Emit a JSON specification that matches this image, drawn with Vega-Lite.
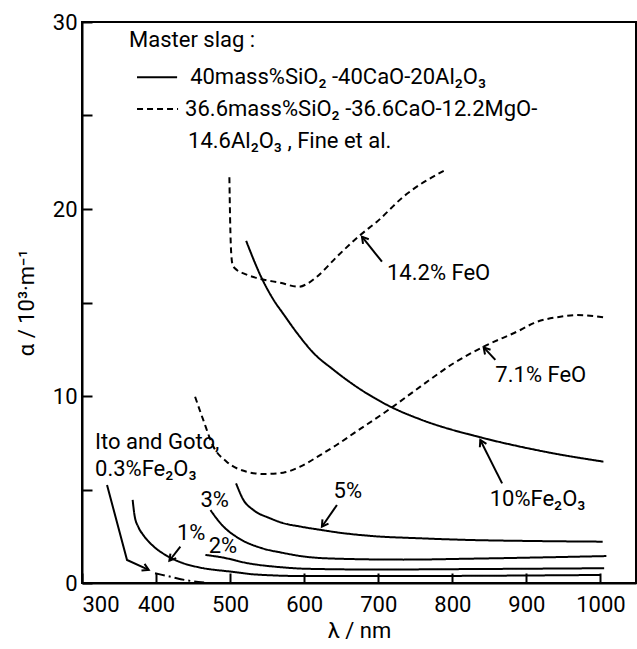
{
  "$schema": "https://vega.github.io/schema/vega-lite/v6.json",
  "width": 554,
  "height": 561,
  "autosize": {"type": "none"},
  "padding": {"left": 82, "top": 22, "right": 1, "bottom": 66},
  "background": "white",
  "config": {
    "view": {"stroke": "black", "strokeWidth": 2},
    "font": "Roboto",
    "axis": {
      "labelFont": "Roboto",
      "titleFont": "Roboto",
      "labelFontSize": 22,
      "titleFontSize": 22,
      "titleFontWeight": "normal",
      "labelColor": "black",
      "titleColor": "black",
      "domainColor": "black",
      "domainWidth": 2,
      "tickColor": "black",
      "tickWidth": 2,
      "grid": false
    }
  },
  "datasets": {
    "curves": [
      {"series": "10% Fe2O3", "style": "solid", "x": 521.6, "y": 18.3},
      {"series": "10% Fe2O3", "style": "solid", "x": 542.8, "y": 16.29},
      {"series": "10% Fe2O3", "style": "solid", "x": 558.5, "y": 15.15},
      {"series": "10% Fe2O3", "style": "solid", "x": 572, "y": 14.38},
      {"series": "10% Fe2O3", "style": "solid", "x": 590.1, "y": 13.38},
      {"series": "10% Fe2O3", "style": "solid", "x": 612.6, "y": 12.3},
      {"series": "10% Fe2O3", "style": "solid", "x": 639.6, "y": 11.4},
      {"series": "10% Fe2O3", "style": "solid", "x": 666.7, "y": 10.6},
      {"series": "10% Fe2O3", "style": "solid", "x": 718.5, "y": 9.39},
      {"series": "10% Fe2O3", "style": "solid", "x": 756.8, "y": 8.75},
      {"series": "10% Fe2O3", "style": "solid", "x": 837.8, "y": 7.79},
      {"series": "10% Fe2O3", "style": "solid", "x": 891.9, "y": 7.29},
      {"series": "10% Fe2O3", "style": "solid", "x": 936.9, "y": 6.93},
      {"series": "10% Fe2O3", "style": "solid", "x": 1004, "y": 6.49},

      {"series": "14.2% FeO", "style": "dashed", "x": 499, "y": 21.7},
      {"series": "14.2% FeO", "style": "dashed", "x": 500, "y": 19.4},
      {"series": "14.2% FeO", "style": "dashed", "x": 501.5, "y": 17.6},
      {"series": "14.2% FeO", "style": "dashed", "x": 503.5, "y": 17.0},
      {"series": "14.2% FeO", "style": "dashed", "x": 509, "y": 16.74},
      {"series": "14.2% FeO", "style": "dashed", "x": 518, "y": 16.56},
      {"series": "14.2% FeO", "style": "dashed", "x": 542.8, "y": 16.24},
      {"series": "14.2% FeO", "style": "dashed", "x": 567.6, "y": 16.06},
      {"series": "14.2% FeO", "style": "dashed", "x": 592.3, "y": 15.84},
      {"series": "14.2% FeO", "style": "dashed", "x": 603.6, "y": 15.99},
      {"series": "14.2% FeO", "style": "dashed", "x": 617.2, "y": 16.38},
      {"series": "14.2% FeO", "style": "dashed", "x": 644.2, "y": 17.45},
      {"series": "14.2% FeO", "style": "dashed", "x": 675.7, "y": 18.61},
      {"series": "14.2% FeO", "style": "dashed", "x": 698.2, "y": 19.32},
      {"series": "14.2% FeO", "style": "dashed", "x": 734, "y": 20.66},
      {"series": "14.2% FeO", "style": "dashed", "x": 790.5, "y": 22.09},

      {"series": "7.1% FeO", "style": "dashed", "x": 452.7, "y": 9.96},
      {"series": "7.1% FeO", "style": "dashed", "x": 463.7, "y": 8.72},
      {"series": "7.1% FeO", "style": "dashed", "x": 477.5, "y": 7.29},
      {"series": "7.1% FeO", "style": "dashed", "x": 495.3, "y": 6.49},
      {"series": "7.1% FeO", "style": "dashed", "x": 522.3, "y": 5.95},
      {"series": "7.1% FeO", "style": "dashed", "x": 545, "y": 5.83},
      {"series": "7.1% FeO", "style": "dashed", "x": 571.7, "y": 5.9},
      {"series": "7.1% FeO", "style": "dashed", "x": 594.6, "y": 6.22},
      {"series": "7.1% FeO", "style": "dashed", "x": 621.6, "y": 6.84},
      {"series": "7.1% FeO", "style": "dashed", "x": 643.7, "y": 7.38},
      {"series": "7.1% FeO", "style": "dashed", "x": 666.7, "y": 8.0},
      {"series": "7.1% FeO", "style": "dashed", "x": 718.5, "y": 9.39},
      {"series": "7.1% FeO", "style": "dashed", "x": 756.8, "y": 10.5},
      {"series": "7.1% FeO", "style": "dashed", "x": 801.8, "y": 11.75},
      {"series": "7.1% FeO", "style": "dashed", "x": 842.3, "y": 12.64},
      {"series": "7.1% FeO", "style": "dashed", "x": 891.9, "y": 13.53},
      {"series": "7.1% FeO", "style": "dashed", "x": 909.9, "y": 13.9},
      {"series": "7.1% FeO", "style": "dashed", "x": 945.9, "y": 14.24},
      {"series": "7.1% FeO", "style": "dashed", "x": 968.5, "y": 14.33},
      {"series": "7.1% FeO", "style": "dashed", "x": 1004.5, "y": 14.21},

      {"series": "5%", "style": "solid", "x": 508, "y": 5.33},
      {"series": "5%", "style": "solid", "x": 518, "y": 4.44},
      {"series": "5%", "style": "solid", "x": 531.5, "y": 3.9},
      {"series": "5%", "style": "solid", "x": 554, "y": 3.46},
      {"series": "5%", "style": "solid", "x": 570, "y": 3.22},
      {"series": "5%", "style": "solid", "x": 594.6, "y": 3.02},
      {"series": "5%", "style": "solid", "x": 623.9, "y": 2.83},
      {"series": "5%", "style": "solid", "x": 644, "y": 2.71},
      {"series": "5%", "style": "solid", "x": 689, "y": 2.52},
      {"series": "5%", "style": "solid", "x": 756.8, "y": 2.39},
      {"series": "5%", "style": "solid", "x": 824, "y": 2.3},
      {"series": "5%", "style": "solid", "x": 900, "y": 2.25},
      {"series": "5%", "style": "solid", "x": 1003, "y": 2.21},

      {"series": "3%", "style": "solid", "x": 473.4, "y": 3.9},
      {"series": "3%", "style": "solid", "x": 489, "y": 3.1},
      {"series": "3%", "style": "solid", "x": 511.7, "y": 2.39},
      {"series": "3%", "style": "solid", "x": 543, "y": 1.86},
      {"series": "3%", "style": "solid", "x": 570, "y": 1.62},
      {"series": "3%", "style": "solid", "x": 599, "y": 1.42},
      {"series": "3%", "style": "solid", "x": 644, "y": 1.3},
      {"series": "3%", "style": "solid", "x": 734, "y": 1.25},
      {"series": "3%", "style": "solid", "x": 824, "y": 1.3},
      {"series": "3%", "style": "solid", "x": 1008, "y": 1.44},

      {"series": "2%", "style": "solid", "x": 466.6, "y": 1.5},
      {"series": "2%", "style": "solid", "x": 489, "y": 1.37},
      {"series": "2%", "style": "solid", "x": 525, "y": 1.05},
      {"series": "2%", "style": "solid", "x": 570, "y": 0.84},
      {"series": "2%", "style": "solid", "x": 603, "y": 0.76},
      {"series": "2%", "style": "solid", "x": 700, "y": 0.72},
      {"series": "2%", "style": "solid", "x": 800, "y": 0.74},
      {"series": "2%", "style": "solid", "x": 1005, "y": 0.79},

      {"series": "1%", "style": "solid", "x": 368.4, "y": 4.44},
      {"series": "1%", "style": "solid", "x": 371, "y": 3.6},
      {"series": "1%", "style": "solid", "x": 376, "y": 3.0},
      {"series": "1%", "style": "solid", "x": 383, "y": 2.55},
      {"series": "1%", "style": "solid", "x": 394.6, "y": 2.03},
      {"series": "1%", "style": "solid", "x": 412.6, "y": 1.5},
      {"series": "1%", "style": "solid", "x": 435, "y": 1.08},
      {"series": "1%", "style": "solid", "x": 457.6, "y": 0.84},
      {"series": "1%", "style": "solid", "x": 502.7, "y": 0.6},
      {"series": "1%", "style": "solid", "x": 536, "y": 0.45},
      {"series": "1%", "style": "solid", "x": 603, "y": 0.37},
      {"series": "1%", "style": "solid", "x": 700, "y": 0.37},
      {"series": "1%", "style": "solid", "x": 1000, "y": 0.43},

      {"series": "0.3% Fe2O3", "style": "dashdot", "x": 398.6, "y": 0.52},
      {"series": "0.3% Fe2O3", "style": "dashdot", "x": 420, "y": 0.33},
      {"series": "0.3% Fe2O3", "style": "dashdot", "x": 439, "y": 0.16},
      {"series": "0.3% Fe2O3", "style": "dashdot", "x": 465, "y": 0.03},

      {"series": "legend solid", "style": "solid", "x": 374.3, "y": 27.05},
      {"series": "legend solid", "style": "solid", "x": 428.4, "y": 27.05},
      {"series": "legend dashed", "style": "dashed", "x": 374.3, "y": 25.35},
      {"series": "legend dashed", "style": "dashed", "x": 429.7, "y": 25.35}
    ],
    "shafts": [
      {"id": "a14", "x": 705, "y": 17.18},
      {"id": "a14", "x": 678, "y": 18.52},
      {"id": "a71", "x": 858.1, "y": 11.93},
      {"id": "a71", "x": 842.3, "y": 12.6},
      {"id": "a10", "x": 867.2, "y": 5.33},
      {"id": "a10", "x": 837.8, "y": 7.65},
      {"id": "a5", "x": 644.2, "y": 4.17},
      {"id": "a5", "x": 623.9, "y": 3.01},
      {"id": "a1", "x": 432.8, "y": 1.94},
      {"id": "a1", "x": 418, "y": 1.19},
      {"id": "ito", "x": 333.8, "y": 5.24},
      {"id": "ito", "x": 360.8, "y": 1.23},
      {"id": "ito", "x": 390.1, "y": 0.7}
    ],
    "heads": [
      {"id": "a14", "x": 678, "y": 18.52, "angle": -38.7},
      {"id": "a71", "x": 842.3, "y": 12.6, "angle": -41.1},
      {"id": "a10", "x": 837.8, "y": 7.65, "angle": -26.6},
      {"id": "a5", "x": 623.9, "y": 3.01, "angle": -145.3},
      {"id": "a1", "x": 418, "y": 1.19, "angle": -141.8},
      {"id": "ito", "x": 390.1, "y": 0.7, "angle": 114.7}
    ],
    "labels": [
      {"text": "Master slag :", "x": 363.5, "y": 29.04},
      {"text": "40mass%SiO₂ -40CaO-20Al₂O₃", "x": 446, "y": 27.05},
      {"text": "36.6mass%SiO₂ -36.6CaO-12.2MgO-", "x": 439.2, "y": 25.35},
      {"text": "14.6Al₂O₃ , Fine et al.", "x": 443.2, "y": 23.64},
      {"text": "14.2% FeO", "x": 711.8, "y": 16.58},
      {"text": "7.1% FeO", "x": 858.1, "y": 11.12},
      {"text": "10%Fe₂O₃", "x": 850.4, "y": 4.49},
      {"text": "5%", "x": 639.6, "y": 4.93},
      {"text": "3%", "x": 459.9, "y": 4.44},
      {"text": "1%", "x": 428.2, "y": 2.7},
      {"text": "2%", "x": 471, "y": 1.98},
      {"text": "Ito and Goto,", "x": 317.6, "y": 7.56},
      {"text": "0.3%Fe₂O₃", "x": 317.6, "y": 6.1}
    ]
  },
  "encoding": {
    "x": {
      "field": "x",
      "type": "quantitative",
      "scale": {"domain": [300, 1048], "nice": false, "zero": false},
      "axis": {
        "title": "λ / nm",
        "values": [300, 400, 500, 600, 700, 800, 900, 1000],
        "format": "d",
        "tickSize": -10,
        "labelPadding": 21,
        "titlePadding": 5,
        "labelFlush": true,
        "labelOverlap": false
      }
    },
    "y": {
      "field": "y",
      "type": "quantitative",
      "scale": {"domain": [0, 30], "nice": false},
      "axis": {
        "title": "α / 10³·m⁻¹",
        "values": [0, 5, 10, 15, 20, 25, 30],
        "labelExpr": "datum.value % 10 === 0 ? datum.label : ''",
        "tickSize": -10,
        "labelPadding": 15,
        "titlePadding": 14,
        "labelFlush": false,
        "labelOverlap": false
      }
    }
  },
  "layer": [
    {
      "data": {"name": "curves"},
      "mark": {"type": "line", "color": "black", "strokeWidth": 2, "interpolate": "monotone"},
      "encoding": {
        "detail": {"field": "series"},
        "strokeDash": {
          "field": "style",
          "type": "nominal",
          "scale": {"domain": ["solid", "dashed", "dashdot"], "range": [[1, 0], [6, 4], [10, 4, 2, 4]]},
          "legend": null
        }
      }
    },
    {
      "data": {"name": "shafts"},
      "mark": {"type": "line", "color": "black", "strokeWidth": 2},
      "encoding": {"detail": {"field": "id"}}
    },
    {
      "data": {"name": "heads"},
      "mark": {
        "type": "point",
        "shape": "M -0.7 1.2 L 0 0 L 0.7 1.2",
        "filled": false,
        "stroke": "black",
        "strokeWidth": 2,
        "size": 110,
        "opacity": 1
      },
      "encoding": {
        "angle": {"field": "angle", "type": "quantitative", "scale": null}
      }
    },
    {
      "data": {"name": "labels"},
      "mark": {
        "type": "text",
        "align": "left",
        "baseline": "middle",
        "fontSize": 22,
        "font": "Roboto",
        "color": "black"
      },
      "encoding": {"text": {"field": "text"}}
    }
  ]
}
